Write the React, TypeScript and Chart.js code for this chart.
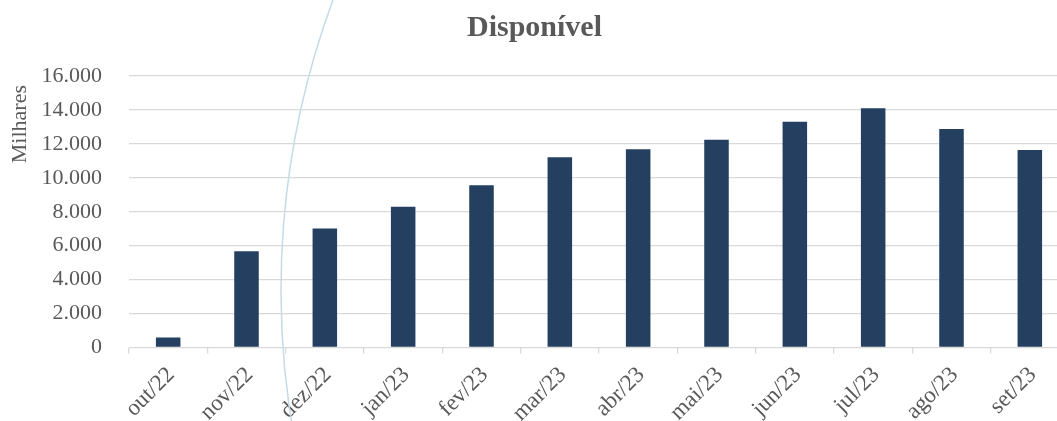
import React, { useEffect, useRef } from "react";
import { Chart, registerables } from "chart.js";

Chart.register(...registerables);

const categories = ["out/22", "nov/22", "dez/22", "jan/23", "fev/23", "mar/23", "abr/23", "mai/23", "jun/23", "jul/23", "ago/23", "set/23"];
const disponivel = [590, 5670, 7020, 8300, 9560, 11210, 11680, 12250, 13310, 14100, 12880, 11640];
const yTicks = [0, 2000, 4000, 6000, 8000, 10000, 12000, 14000, 16000];
const chartTitle = "Disponível";
const yAxisTitle = "Milhares";

const W = 1080;
const H = 445;
const FONT = "'Liberation Serif', 'DejaVu Serif', serif";
const GRID = "#D9D9D9";
const TEXT = "#595959";
const BAR = "#253F60";

const fmt = (v: number) => v.toLocaleString("de-DE");

const arcPlugin = {
  id: "decorArc",
  afterDraw(chart: any) {
    const ctx = chart.ctx;
    ctx.save();
    ctx.strokeStyle = "#C3DBEA";
    ctx.lineWidth = 1.5;
    ctx.beginPath();
    ctx.arc(1116, 290, 835, Math.PI - 0.2, Math.PI + 0.36);
    ctx.stroke();
    ctx.restore();
  },
};

const yTitlePlugin = {
  id: "yTitleTop",
  afterDraw(chart: any) {
    const ctx = chart.ctx;
    const top = chart.chartArea.top;
    ctx.save();
    ctx.fillStyle = TEXT;
    ctx.font = `22px ${FONT}`;
    ctx.textAlign = "right";
    ctx.textBaseline = "middle";
    ctx.translate(20, top + 9);
    ctx.rotate(-Math.PI / 2);
    ctx.fillText(yAxisTitle, 0, 0);
    ctx.restore();
  },
};

export default function App() {
  const ref = useRef<HTMLCanvasElement | null>(null);
  useEffect(() => {
    if (!ref.current) return;
    const chart = new Chart(ref.current, {
      type: "bar",
      data: {
        labels: categories,
        datasets: [
          {
            label: chartTitle,
            data: disponivel,
            backgroundColor: BAR,
            categoryPercentage: 1,
            barPercentage: 0.313,
          },
        ],
      },
      plugins: [yTitlePlugin, arcPlugin],
      options: {
        animation: false,
        responsive: false,
        devicePixelRatio: 1,
        layout: { padding: { left: 0, right: 11, top: 0, bottom: 0 } },
        plugins: {
          legend: { display: false },
          tooltip: { enabled: false },
          title: {
            display: true,
            text: chartTitle,
            color: TEXT,
            font: { family: FONT, size: 30, weight: "bold" },
            padding: { top: 10, bottom: 30 },
          },
        },
        scales: {
          x: {
            grid: {
              offset: true,
              drawOnChartArea: false,
              drawTicks: true,
              tickLength: 6,
              color: GRID,
              lineWidth: 1.3,
            },
            border: { display: false },
            ticks: {
              color: TEXT,
              font: { family: FONT, size: 23 },
              maxRotation: 45,
              minRotation: 45,
              autoSkip: false,
              labelOffset: 3,
              padding: 8,
            },
            afterFit: (s: any) => {
              s.height = H - 347.5;
            },
          },
          y: {
            min: 0,
            max: 16000,
            afterBuildTicks: (s: any) => {
              s.ticks = yTicks.map((v) => ({ value: v }));
            },
            grid: { color: GRID, lineWidth: 1.3, drawTicks: false },
            border: { display: false },
            ticks: {
              color: TEXT,
              font: { family: FONT, size: 22 },
              padding: 27,
              callback: (v: any) => fmt(Number(v)),
            },
            afterFit: (s: any) => {
              s.width = 129;
            },
          },
        },
      },
    } as any);
    return () => chart.destroy();
  }, []);
  return (
    <div style={{ position: "fixed", left: 0, top: 0, width: 1057, height: 421, overflow: "hidden", background: "#fff" }}>
      <canvas ref={ref} width={W} height={H} style={{ display: "block", width: W, height: H }} />
    </div>
  );
}
